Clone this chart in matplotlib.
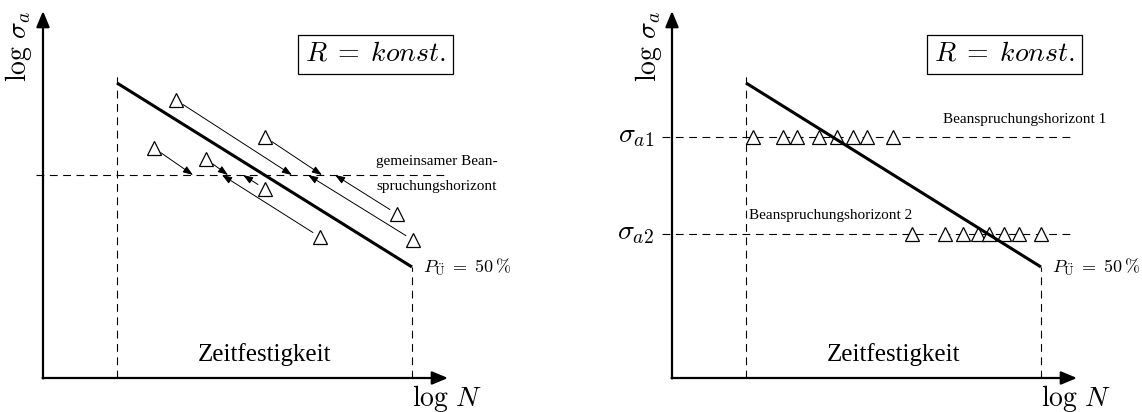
import matplotlib.pyplot as plt

plt.rcParams['font.family'] = 'Liberation Serif'
plt.rcParams['mathtext.fontset'] = 'cm'

# log N / log sigma_a in arbitrary units, origin at the axis corner
n_start, n_end = 7.4, 36.9        # limits of the Zeitfestigkeit range
s_start, s_end = 29.5, 11.1       # Woehler line (P_U = 50 %) at n_start / n_end
n_axis_end, s_axis_end = 40.5, 36.7

# left: specimens shifted along the slope onto one common stress level
s_common = 20.3
tri_n = [13.3, 22.2, 11.1, 16.3, 22.2, 27.7, 35.4, 37.0]
tri_s = [27.8, 24.1, 23.0, 21.9, 18.9, 14.1, 16.4, 13.8]
moved_n = [24.9, 27.9, 15.0, 18.5, 20.0, 17.9, 29.2, 26.5]

# right: two stress levels, eight specimens each
s_a1, s_a2 = 24.1, 14.4
n_a1 = [8.1, 11.1, 12.5, 14.7, 16.5, 18.1, 19.5, 22.1]
n_a2 = [24.0, 27.3, 29.1, 30.6, 31.7, 33.2, 34.7, 36.9]

dash = (0, (7, 5))
tri_style = dict(marker='^', ms=10, mfc='white', mec='black', mew=0.9, ls='none', zorder=4)


def base_panel(ax):
    ax.axis('off')
    ax.set_ylim(-3.4, 37.8)
    axis_arrow = dict(arrowstyle='-|>,head_length=0.6,head_width=0.25', lw=1.6,
                      color='black', mutation_scale=16, shrinkA=0, shrinkB=0)
    ax.annotate('', xy=(n_axis_end, 0), xytext=(-0.05, 0), arrowprops=axis_arrow)
    ax.annotate('', xy=(0, s_axis_end), xytext=(0, -0.05), arrowprops=axis_arrow)
    ax.plot([n_start, n_start], [0, s_start + 0.7], color='black', lw=0.8, ls=dash)
    ax.plot([n_end, n_end], [0, s_end], color='black', lw=0.8, ls=dash)
    ax.plot([n_start, n_end], [s_start, s_end], color='black', lw=2.2,
            solid_capstyle='butt', zorder=5)
    ax.text(33.25, 32.35, r'$R\;=\;konst.$', fontsize=20, ha='center', va='center',
            bbox=dict(boxstyle='square,pad=0.25', fc='white', ec='black', lw=0.9))
    ax.text(38.0, s_end, r'$P_{\ddot{\mathrm{U}}}\;=\;50\,\%$', fontsize=13,
            ha='left', va='center')
    ax.text((n_start + n_end) / 2, 2.3, 'Zeitfestigkeit', fontsize=18,
            ha='center', va='center')
    ax.text(40.4, -2.0, r'$\log\,N$', fontsize=20, ha='center', va='center')
    ax.text(-2.4, 33.2, r'$\log\,\sigma_a$', fontsize=20, ha='center', va='center',
            rotation=90)


fig = plt.figure(figsize=(11.42, 4.12), dpi=100)

# --- left panel ---
ax1 = fig.add_axes([0, 0, 0.5, 1])
ax1.set_xlim(-4.3, 52.8)
base_panel(ax1)
ax1.plot([-0.7, 40.4], [s_common, s_common], color='black', lw=0.8, ls=dash)
for n0, s0, n1 in zip(tri_n, tri_s, moved_n):
    ax1.annotate('', xy=(n1, s_common), xytext=(n0, s0),
                 arrowprops=dict(arrowstyle='-|>,head_length=0.5,head_width=0.18',
                                 lw=0.7, color='black', mutation_scale=12,
                                 shrinkA=6, shrinkB=0))
ax1.plot(tri_n, tri_s, **tri_style)
ax1.text(39.4, 21.6, 'gemeinsamer Bean-', fontsize=11, ha='center', va='center')
ax1.text(39.4, 19.1, 'spruchungshorizont', fontsize=11, ha='center', va='center')

# --- right panel ---
ax2 = fig.add_axes([0.5, 0, 0.5, 1])
ax2.set_xlim(-10.1, 47.0)
base_panel(ax2)
for s in (s_a1, s_a2):
    ax2.plot([-1.0, 40.1], [s, s], color='black', lw=0.8, ls=dash)
ax2.plot(n_a1, [s_a1] * len(n_a1), **tri_style)
ax2.plot(n_a2, [s_a2] * len(n_a2), **tri_style)
ax2.text(-1.8, s_a1, r'$\sigma_{a1}$', fontsize=20, ha='right', va='center')
ax2.text(-1.8, s_a2, r'$\sigma_{a2}$', fontsize=20, ha='right', va='center')
ax2.text(35.3, 25.8, 'Beanspruchungshorizont 1', fontsize=11, ha='center', va='center')
ax2.text(15.9, 16.2, 'Beanspruchungshorizont 2', fontsize=11, ha='center', va='center')

fig.savefig('out.png', dpi=100)
